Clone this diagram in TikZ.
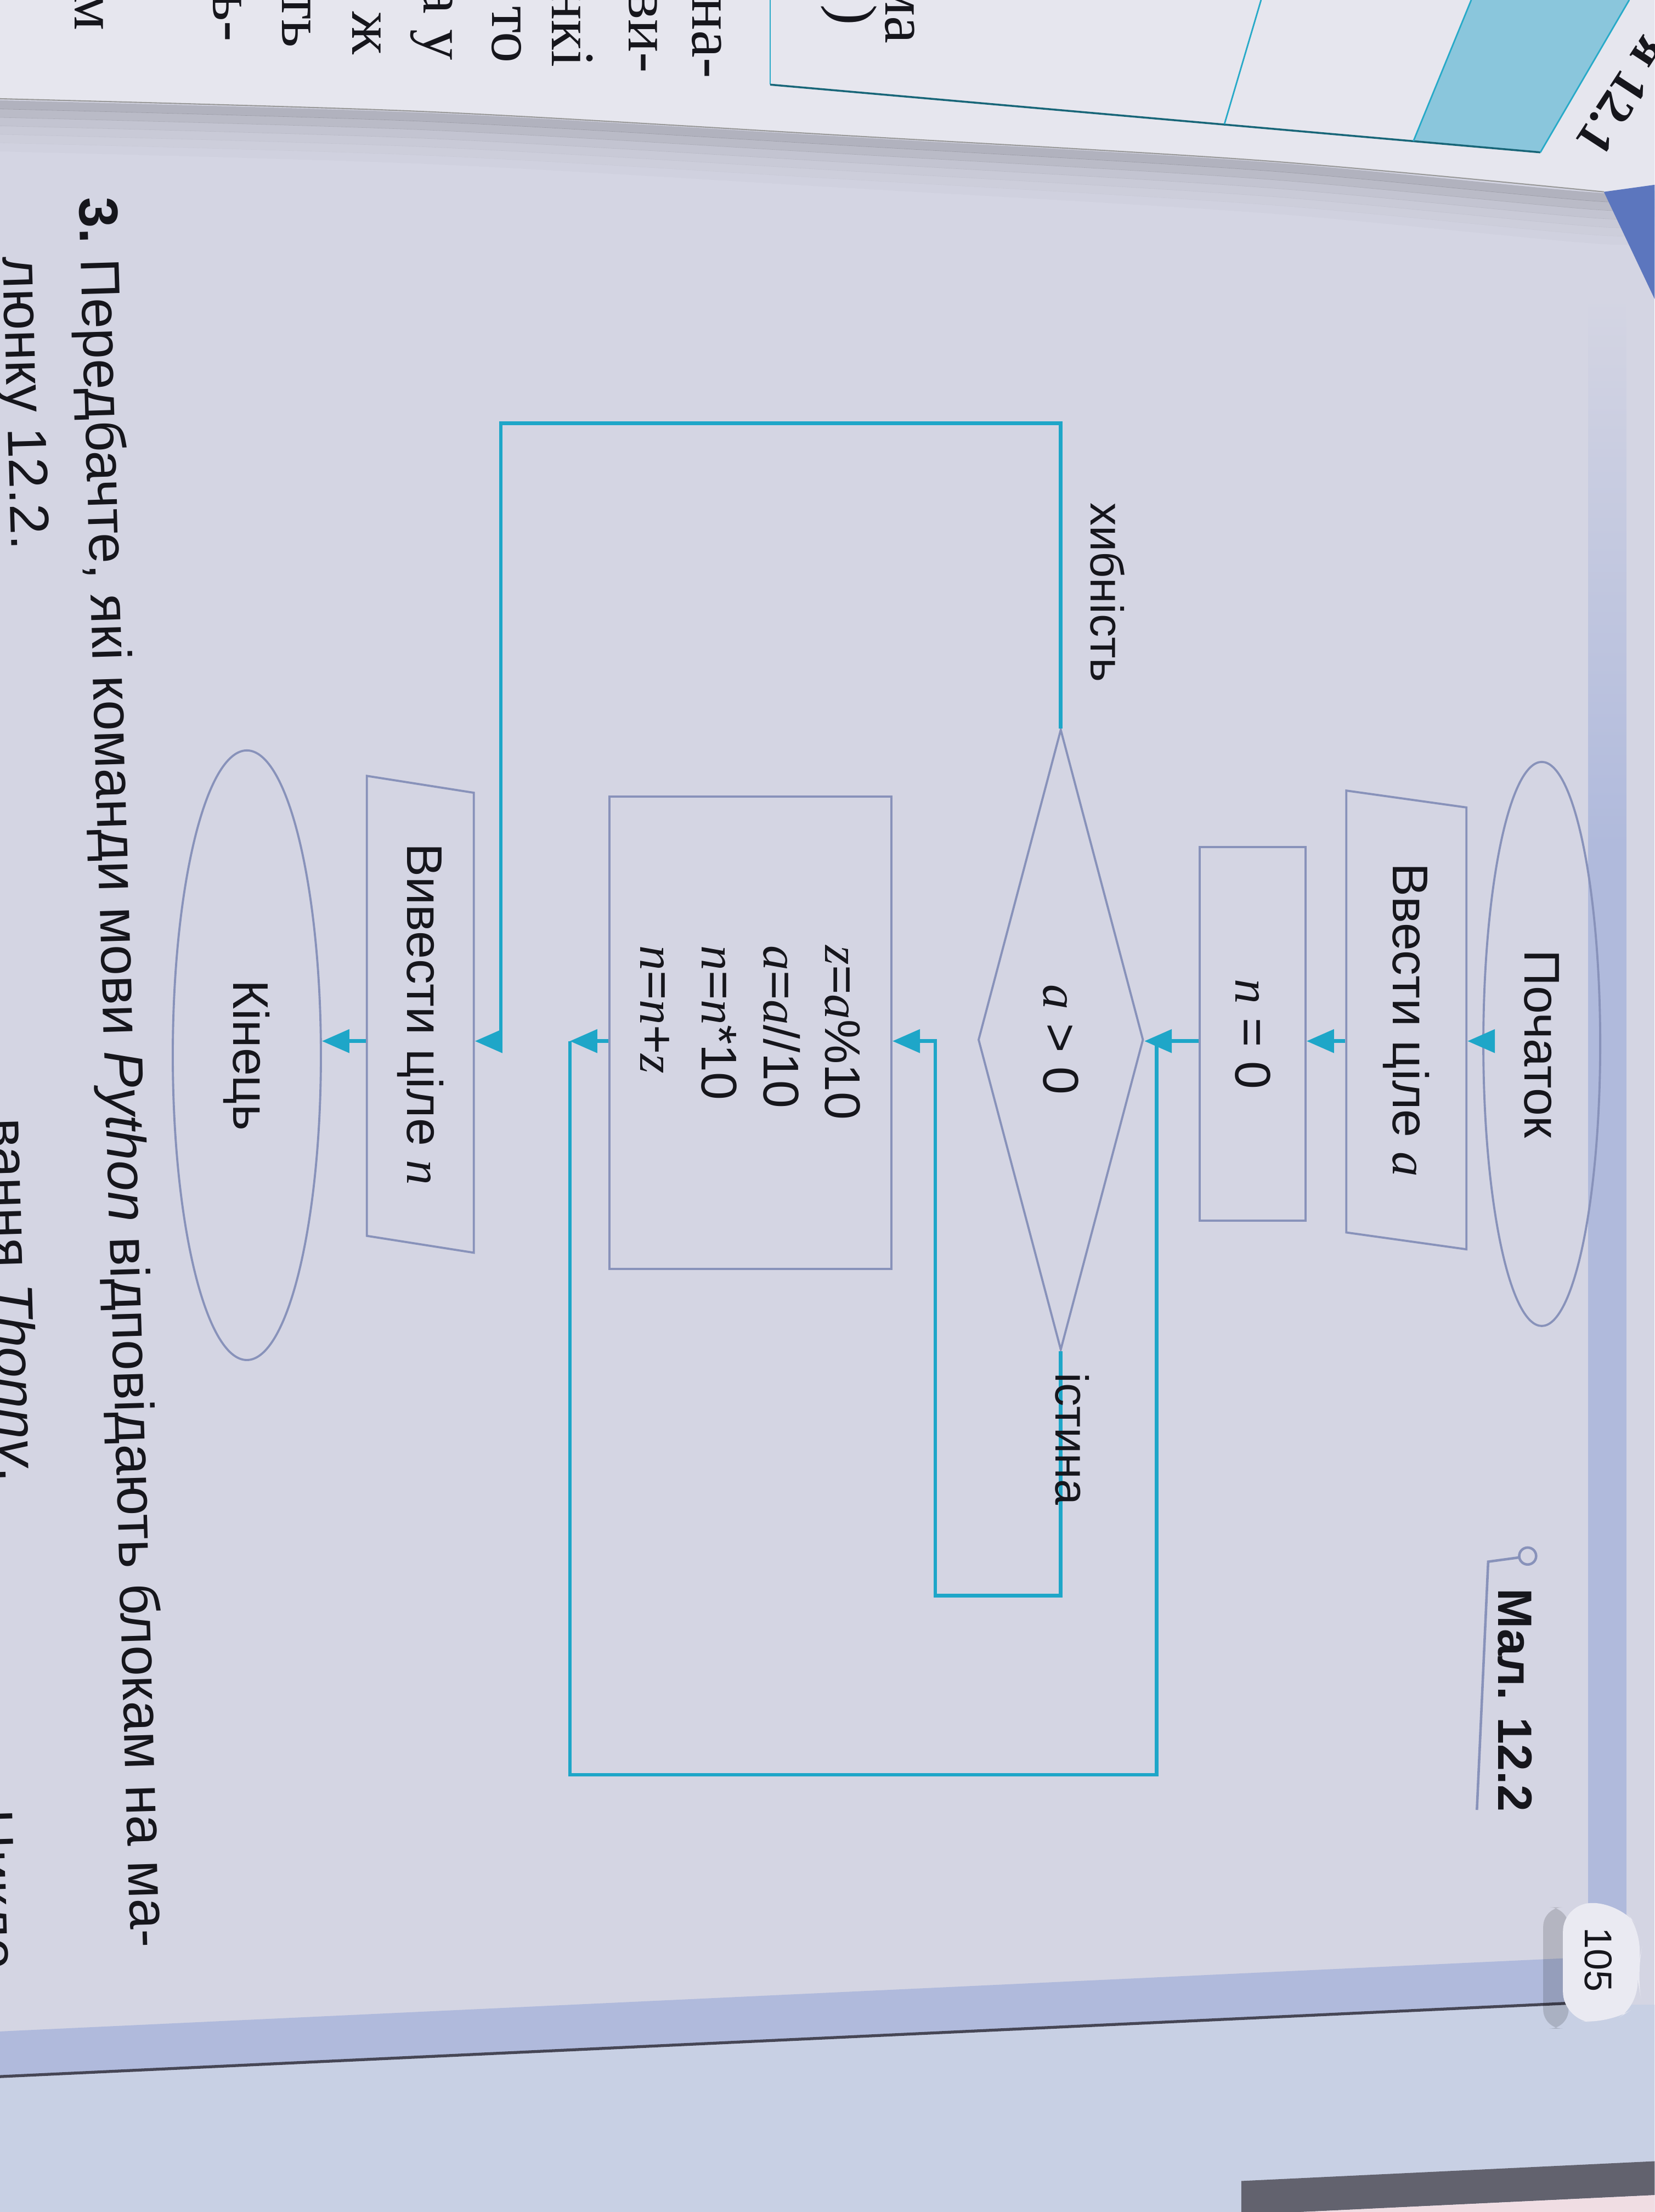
\RequirePackage{fix-cm}
\documentclass[tikz,border=0pt]{standalone}
\usepackage{fontspec}
\setmainfont{Liberation Sans}
\newfontfamily\pageserif{Liberation Serif}
\newcommand\vrbl[1]{{\pageserif\itshape #1}}
\usetikzlibrary{shapes.geometric,arrows.meta,calc}
\definecolor{pagebg}{RGB}{212,213,227}
\definecolor{leftpage}{RGB}{230,230,238}
\definecolor{flowline}{RGB}{30,166,200}
\definecolor{boxline}{RGB}{136,146,186}
\definecolor{bandblue}{RGB}{176,186,220}
\definecolor{tablefill}{RGB}{138,198,220}
\definecolor{tableline}{RGB}{40,170,200}
\definecolor{coverblue}{RGB}{92,118,190}
\definecolor{ink}{RGB}{22,22,28}
\definecolor{edgedark}{RGB}{70,70,85}
\definecolor{lowerpage}{RGB}{200,208,228}
\definecolor{blobwhite}{RGB}{234,234,242}
\begin{document}
\begin{tikzpicture}[x=0.02571cm,y=-0.02571cm,
  every node/.style={text=ink},
  shp/.style={draw=boxline, line width=1.1pt, rotate=-90, inner sep=0pt, font=\fontsize{26}{32}\selectfont},
  term/.style={shp, ellipse},
  iobox/.style={shp, trapezium, trapezium left angle=70, trapezium right angle=110, trapezium stretches body},
  procbox/.style={shp, rectangle},
  decbox/.style={shp, diamond, aspect=3.7},
  link/.style={draw=flowline, line width=1.85pt},
  flow/.style={link, -{Triangle[length=5mm,width=4.2mm]}},
  lbl/.style={rotate=-90, inner sep=0pt, font=\fontsize{24}{28}\selectfont},
  qtext/.style={rotate=-88.3, inner sep=0pt, font=\fontsize{28.5}{34}\selectfont},
  frag/.style={rotate=-90, inner sep=0pt, font=\pageserif\fontsize{32}{36}\selectfont, anchor=east},
]
\useasboundingbox (0,0) rectangle (1173,1568);
\clip (0,0) rectangle (1173,1568);
% ---------- background: photographed pages ----------
\fill[pagebg] (0,0) rectangle (1173,1568);
\foreach \d/\o in {4/0.16,10/0.12,16/0.08,22/0.05,28/0.03,34/0.015}
  \draw[black, opacity=\o, line width=1.6mm, shift={(0,\d)}]
    plot[smooth] coordinates {(-10,70) (299,79) (598,96) (897,114) (1137,136) (1180,131)};
\fill[leftpage] (0,0) -- (1173,0) -- (1173,132) --
  plot[smooth] coordinates {(1137,136) (897,114) (598,96) (299,79) (0,70)} -- cycle;
\draw[black!40, line width=0.6pt] plot[smooth] coordinates {(0,70) (299,79) (598,96) (897,114) (1137,136)};
\fill[coverblue] (1137,136) -- (1173,131) -- (1173,212) -- cycle;
% table on the left page
\fill[tablefill] (1043,0) -- (1155,0) -- (1092,108) -- (1002,100) -- cycle;
\draw[tableline, line width=0.8pt] (546,0) -- (546,60);
\draw[tableline!60!black, line width=1pt] (546,60) -- (1092,108);
\draw[tableline, line width=0.8pt] (1092,108) -- (1155,0);
\draw[tableline, line width=0.8pt] (894,0) -- (868,88);
\draw[tableline, line width=0.8pt] (1043,0) -- (1002,100);
\node[rotate=-123, anchor=base east, inner sep=0pt, font=\pageserif\bfseries\fontsize{26}{30}\selectfont] (tblcap) at (1116,100) {я 12.1};
% line ends of the left page
\foreach \xx/\yy/\tt [count=\i] in {63/22/м, 161/30/ь-, 210/34/ть, 260/39/ж, 306/43/{а у}, 359/45/то, 406/48/нкі, 456/52/ви-, 501/56/на-, 602/18/), 638/31/ма}
  \node[frag] (frag\i) at (\xx,\yy) {\tt};
% page border bands
\shade[top color=pagebg, bottom color=bandblue] (1126,210) rectangle (1153,600);
\fill[bandblue] (1126,599) rectangle (1153,1360);
\fill[lowerpage] (0,1473) -- (1112,1421) -- (1173,1421) -- (1173,1568) -- (0,1568) -- cycle;
\fill[bandblue] (1112,1388) -- (1112,1420) -- (0,1472) -- (0,1440) -- cycle;
\draw[edgedark, line width=1.5pt] (1112,1420) -- (0,1472);
\fill[edgedark!85] (1173,1532) -- (1173,1556) -- (880,1570) -- (880,1546) -- cycle;
\fill[blobwhite!70!pink] (1173,1556) -- (880,1570) -- (880,1568) -- (1173,1568) -- cycle;
% page number
\fill[black, opacity=0.15, rounded corners=10] (1094,1352) rectangle (1112,1438);
\fill[blobwhite, rounded corners=14] (1108,1350) -- (1147,1348) -- (1166,1372) -- (1160,1398) -- (1164,1420) -- (1140,1435) -- (1108,1431) -- cycle;
\node[rotate=-90, inner sep=0pt, font=\fontsize{20}{24}\selectfont] (pagenum) at (1133,1389) {105};
% question text
\node[qtext, anchor=base west] (q1) at (56,140) {\textbf{3.}\ Передбачте, які команди мови \textit{Python} відповідають блокам на ма-};
\node[qtext, anchor=base west] (q2) at (2,182) {люнку 12.2.};
\node[qtext, anchor=base east] (q3) at (0,1051) {вання \textit{Thonny}.};
\node[qtext, anchor=base west] (q4) at (-18,1283) {Цикло};
% caption
\node[rotate=-90, inner sep=0pt, font=\bfseries\fontsize{25}{30}\selectfont] (cap) at (1074,1205) {Мал. 12.2};
\coordinate (capdot) at (1083,1103);
\draw[boxline, line width=1.3pt] (capdot) circle[radius=6];
\draw[boxline, line width=1.3pt] ($(capdot)+(-6,1)$) -- (1055,1107) -- (1047,1283);
% ---------- flowchart ----------
\coordinate (ax) at (0,738);
\node[term, minimum width=102.8mm, minimum height=21.3mm] (start) at (1093,740) {Початок};
\node[iobox, minimum width=83.6mm, minimum height=21.9mm] (input) at (997,723) {Ввести ціле \vrbl{a}};
\node[procbox, minimum width=68.1mm, minimum height=19.3mm] (n0) at (888,733) {\vrbl{n} = 0};
\node[decbox, minimum width=113.1mm, minimum height=30.1mm] (dec) at (752,737) {\vrbl{a} > 0};
\node[procbox, minimum width=86.1mm, minimum height=51.4mm, align=left] (proc) at (532,732)
  {\vrbl{z}=\vrbl{a}\%10\\\vrbl{a}=\vrbl{a}//10\\\vrbl{n}=\vrbl{n}*10\\\vrbl{n}=\vrbl{n}+\vrbl{z}};
\node[iobox, minimum width=86.9mm, minimum height=19.5mm] (output) at (298,719) {Вивести ціле \vrbl{n}};
\node[term, minimum width=111.1mm, minimum height=27mm] (end) at (175,748) {Кінець};
% connectors
\draw[flow] (start.south |- ax) -- (input.north |- ax);
\draw[flow] (input.south |- ax) -- (n0.north |- ax);
\draw[flow] (n0.south |- ax) -- (dec.north |- ax);
\coordinate (fleft) at (355,300);
\draw[flow] (dec.west) -- (dec.west |- fleft) -- (fleft) -- (fleft |- ax) -- (output.north |- ax);
\coordinate (tleft) at (663,1131);
\draw[flow] (dec.east) -- (dec.east |- tleft) -- (tleft) -- (tleft |- ax) -- (proc.north |- ax);
\coordinate (lpa) at (404,738);
\coordinate (lpb) at (404,1258);
\coordinate (lpc) at (820,1258);
\coordinate (lpd) at (820,738);
\draw[flow] (proc.south |- ax) -- (lpa);
\draw[link] (lpa) -- (lpb) -- (lpc) -- (lpd);
\draw[flow] (output.south |- ax) -- (end.north |- ax);
% branch labels
\node[lbl] (flbl) at (785,420) {хибність};
\node[lbl] (tlbl) at (760,1020) {істина};
\end{tikzpicture}
\end{document}
